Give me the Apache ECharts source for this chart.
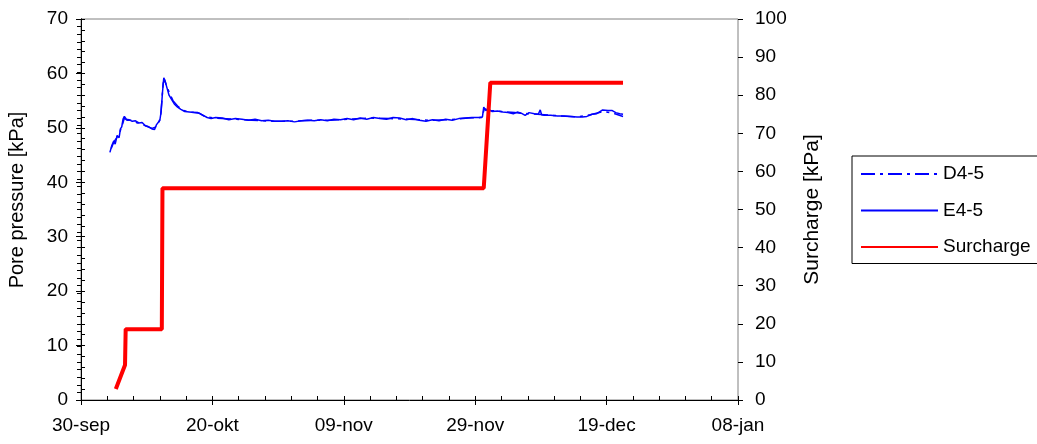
<!DOCTYPE html>
<html>
<head>
<meta charset="utf-8">
<script src="https://cdn.jsdelivr.net/npm/echarts@6/dist/echarts.min.js"></script>
<style>html,body{margin:0;padding:0;background:#fff;}#c{width:1037px;height:444px;}</style>
</head>
<body>
<div id="c"></div>
<script>
// x values are days after 30-sep
const xTickLabels = ['30-sep', '20-okt', '09-nov', '29-nov', '19-dec', '08-jan'];

const e45Days = [4.4,4.7,5.0,5.2,5.5,5.8,6.0,6.2,6.4,6.6,6.9,7.3,7.8,8.3,8.8,9.3,9.8,10.3,10.8,11.2,11.5,11.8,12.0,12.2,12.4,12.6,12.8,13.1,13.4,13.8,14.2,14.7,15.2,15.8,16.5,17.2,18.0,18.6,19.2,19.8,20.5,21.5,22.5,23.5,24.5,25.5,26.5,27.5,28.5,29.5,30.5,31.5,32.5,33.5,34.5,35.5,36.5,37.5,38.5,39.5,40.5,41.5,42.5,43.5,44.5,45.5,46.5,47.5,48.5,49.5,50.5,51.5,52.5,53.5,54.5,55.5,56.5,57.5,58.5,59.5,60.5,61.1,61.3,61.6,62.0,62.6,63.4,64.2,65.0,65.8,66.4,67.0,67.6,68.2,69.0,69.6,69.9,70.1,70.5,71.5,72.5,73.5,74.5,75.5,76.3,77.0,77.8,78.5,79.4,80.2,80.8,81.4,82.0,82.5];
const e45Values = [45.5,46.8,47.6,47.0,48.6,48.2,49.8,50.2,51.6,52.1,51.6,51.5,51.2,51.3,50.9,51.0,50.4,50.2,49.8,49.7,50.6,50.3,51.4,53.0,56.5,59.2,58.6,57.3,56.0,55.2,54.4,53.8,53.4,53.0,52.9,52.8,52.7,52.3,51.9,51.7,51.9,51.8,51.5,51.7,51.6,51.4,51.6,51.3,51.4,51.2,51.2,51.3,51.1,51.3,51.4,51.3,51.5,51.3,51.6,51.5,51.7,51.5,51.8,51.6,51.9,51.7,51.6,51.9,51.8,51.5,51.7,51.4,51.2,51.5,51.3,51.6,51.4,51.7,51.8,51.9,51.9,52.0,53.8,53.2,53.4,53.0,53.1,52.9,52.8,52.6,52.9,52.7,52.3,52.8,52.6,52.5,53.3,52.4,52.3,52.3,52.2,52.2,52.1,52.0,52.0,52.1,52.5,52.6,53.3,53.2,53.2,52.8,52.6,52.5,52.0];

const d45Days = [4.6,5.0,5.4,5.9,6.3,6.6,7.0,7.6,8.4,9.2,10.0,10.8,11.3,11.8,12.1,12.3,12.5,12.7,13.0,13.5,14.0,14.8,15.6,16.6,17.8,19.0,20.5,23.0,26.0,29.0,32.0,35.0,38.0,41.0,44.0,47.0,50.0,53.0,56.0,59.0,61.0,61.4,62.2,64.0,66.0,68.0,70.5,73.0,75.5,77.5,79.5,81.0,82.5];
const d45Values = [46.2,47.4,48.1,49.2,50.6,51.8,51.4,51.4,51.0,50.7,50.3,49.9,50.1,50.8,52.0,54.8,58.2,58.9,57.8,56.3,55.0,53.9,53.2,52.9,52.8,52.0,51.8,51.6,51.4,51.2,51.2,51.4,51.4,51.6,51.8,51.7,51.6,51.4,51.5,51.8,51.9,53.5,53.2,53.0,52.8,52.6,52.4,52.2,52.0,52.4,53.0,52.7,52.1];

const surchargeDays = [5.3, 6.7, 6.8, 12.3, 12.4, 61.3, 62.3, 82.5];
const surchargeValues = [2.9, 9.2, 18.6, 18.6, 55.6, 55.6, 83.3, 83.3];

function pairs(xs, ys) { return xs.map((x, i) => [x, ys[i]]); }

const font = 'Liberation Sans, Arial, sans-serif';
const FS = 19;
const chart = echarts.init(document.getElementById('c'), null, {renderer: 'canvas'});
const axLine = {show: true, lineStyle: {color: '#000', width: 1}};

chart.setOption({
  animation: false,
  backgroundColor: '#fff',
  grid: {left: 81, right: 299, top: 19, bottom: 44, containLabel: false, outerBoundsMode: 'none',
    show: true, borderColor: '#808080', borderWidth: 1, backgroundColor: 'transparent'},
  legend: {
    orient: 'vertical', left: 852, top: 156,
    itemWidth: 77, itemHeight: 14, itemGap: 17.5,
    padding: [8.5, 30, 7, 8],
    borderColor: '#000', borderWidth: 1, backgroundColor: '#fff',
    itemStyle: {opacity: 0},
    textStyle: {fontFamily: font, fontSize: FS, lineHeight: 19, color: '#000'},
    data: ['D4-5', 'E4-5', 'Surcharge']
  },
  xAxis: [{
    type: 'value', min: 0, max: 100, interval: 20,
    axisLine: axLine,
    axisTick: {show: true, inside: true, length: 4, lineStyle: {color: '#000'}},
    minorTick: {show: true, splitNumber: 5, length: 4, lineStyle: {color: '#000'}},
    splitLine: {show: false},
    axisLabel: {fontFamily: font, fontSize: FS, color: '#000', margin: 16,
      formatter: v => xTickLabels[Math.round(v / 20)]}
  }, {
    type: 'value', min: 0, max: 100, interval: 20, position: 'bottom',
    axisLine: {show: false},
    axisTick: {show: true, inside: false, length: 5, lineStyle: {color: '#000'}},
    axisLabel: {show: false}, splitLine: {show: false}
  }],
  yAxis: [{
    type: 'value', min: 0, max: 70, interval: 10, position: 'left',
    name: 'Pore pressure [kPa]', nameLocation: 'middle', nameGap: 54, nameRotate: 90,
    nameTextStyle: {fontFamily: font, fontSize: 20, color: '#000', padding: [0, 0, 0, 19]},
    axisLine: axLine,
    axisTick: {show: true, inside: true, length: 4, lineStyle: {color: '#000'}},
    minorTick: {show: true, splitNumber: 5, length: 4, lineStyle: {color: '#000'}},
    splitLine: {show: false},
    axisLabel: {fontFamily: font, fontSize: FS, color: '#000', margin: 13}
  }, {
    type: 'value', min: 0, max: 100, interval: 10, position: 'right',
    name: 'Surcharge [kPa]', nameLocation: 'middle', nameGap: 64, nameRotate: 90,
    nameTextStyle: {fontFamily: font, fontSize: 21, color: '#000', verticalAlign: 'top'},
    axisLine: axLine,
    axisTick: {show: true, inside: true, length: 4, lineStyle: {color: '#000'}},
    minorTick: {show: true, splitNumber: 5, length: 4, lineStyle: {color: '#000'}},
    splitLine: {show: false},
    axisLabel: {fontFamily: font, fontSize: FS, color: '#000', margin: 17}
  }, {
    type: 'value', min: 0, max: 70, interval: 10, position: 'left',
    axisLine: {show: false},
    axisTick: {show: true, inside: false, length: 5, lineStyle: {color: '#000'}},
    axisLabel: {show: false}, splitLine: {show: false}
  }, {
    type: 'value', min: 0, max: 100, interval: 10, position: 'right',
    axisLine: {show: false},
    axisTick: {show: true, inside: false, length: 5, lineStyle: {color: '#000'}},
    axisLabel: {show: false}, splitLine: {show: false}
  }],
  series: [{
    name: 'D4-5', type: 'line', yAxisIndex: 0, symbol: 'none',
    lineStyle: {color: '#0000FF', width: 1.5, type: [14, 5, 3, 5]},
    itemStyle: {color: '#0000FF'},
    data: pairs(d45Days, d45Values), z: 3
  }, {
    name: 'E4-5', type: 'line', yAxisIndex: 0, symbol: 'none',
    lineStyle: {color: '#0000FF', width: 1.5},
    itemStyle: {color: '#0000FF'},
    data: pairs(e45Days, e45Values), z: 3
  }, {
    name: 'Surcharge', type: 'line', yAxisIndex: 1, symbol: 'none',
    lineStyle: {color: '#FF0000', width: 4},
    itemStyle: {color: '#FF0000'},
    data: pairs(surchargeDays, surchargeValues), z: 4
  }]
});
</script>
</body>
</html>
